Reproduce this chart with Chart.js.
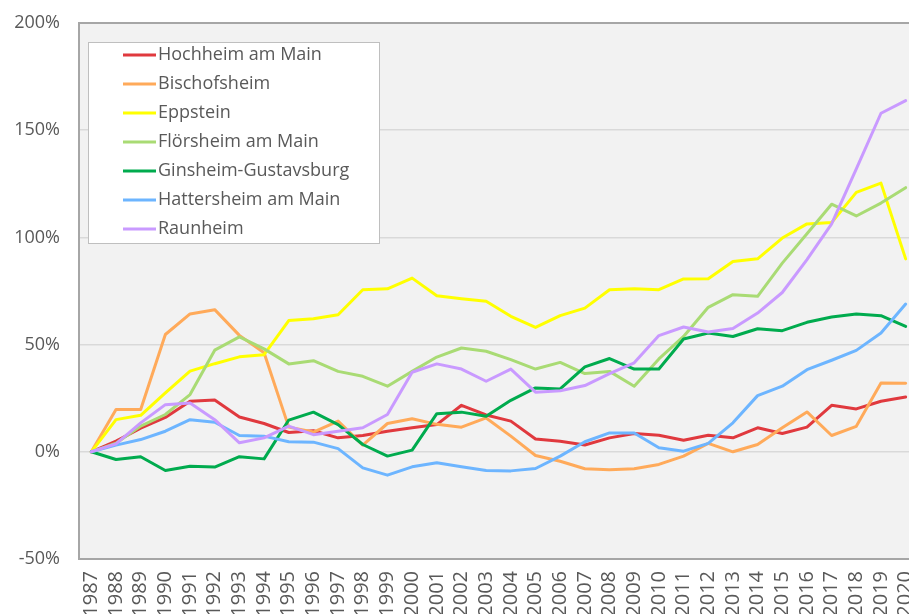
<!DOCTYPE html>
<html>
<head>
<meta charset="utf-8">
<script src="https://cdn.jsdelivr.net/npm/chart.js@4.4.1/dist/chart.umd.min.js"></script>
<style>
  html, body { margin: 0; padding: 0; background: #ffffff; overflow: hidden; width: 909px; height: 614px; }
  #wrap { position: absolute; left: 0; top: 0; width: 918px; height: 614px; }
</style>
</head>
<body>
<div id="wrap"><canvas id="c" width="918" height="614"></canvas></div>
<script>
const years = ["1987","1988","1989","1990","1991","1992","1993","1994","1995","1996","1997","1998","1999","2000","2001","2002","2003","2004","2005","2006","2007","2008","2009","2010","2011","2012","2013","2014","2015","2016","2017","2018","2019","2020"];

const seriesNames = ["Hochheim am Main","Bischofsheim","Eppstein","Flörsheim am Main","Ginsheim-Gustavsburg","Hattersheim am Main","Raunheim"];

const hochheim = [0,5,11,16,23.6,24.2,16.2,13.2,9,9.8,6.5,7.6,9.6,11.2,12.7,21.7,17.2,14.3,6,4.9,3.2,6.5,8.5,7.7,5.4,7.7,6.5,11.2,8.5,11.5,21.7,20,23.6,25.6];
const bischofsheim = [0,19.7,19.7,54.7,64.3,66.3,54.3,46.2,11.5,9.2,14.3,3.1,13.2,15.4,12.8,11.5,15.8,7.3,-1.7,-4.4,-7.9,-8.4,-7.9,-5.9,-2,3.9,0,3.4,11.2,18.6,7.6,11.9,32.1,32];
const eppstein = [0,15,17,27.5,37.6,41.1,44.3,45.3,61.2,62.1,63.9,75.6,76,81,72.8,71.4,70.2,63.2,58,63.5,67,75.6,76,75.6,80.6,80.7,88.8,90,99.7,106.3,106.9,121,125.3,90];
const floersheim = [0,4,12,17.4,26.7,47.4,53.6,48,41,42.5,37.5,35.2,30.6,37.5,44.2,48.4,46.9,43,38.6,41.7,36.5,37.5,30.6,43.3,53.8,67.4,73.3,72.5,88,101.7,115.5,110,116,123.2];
const ginsheim = [0,-3.6,-2.3,-8.7,-6.7,-7.1,-2.3,-3.3,14.8,18.5,12.7,3.4,-2,0.8,17.8,18.5,16.6,24,29.8,29.3,39.6,43.5,38.6,38.6,52.6,55.4,53.8,57.4,56.5,60.4,62.9,64.3,63.5,58.5];
const hattersheim = [0,3.1,5.7,9.6,15,13.8,7.6,7.3,4.7,4.5,1.5,-7.5,-10.9,-7,-5.1,-7,-8.7,-8.9,-7.8,-2,4.7,8.8,8.8,1.9,0.3,3.9,13.5,26.2,30.6,38.3,42.7,47.3,55.4,68.9];
const raunheim = [0,3.7,13.5,22,22.8,15,4.2,6.5,12,8,9.6,11.2,17.4,37.1,41,38.6,32.9,38.6,27.8,28.5,30.9,36.5,41.5,54.2,58.2,55.9,57.5,64.7,74.3,89.6,106.3,132,157.9,163.8];

const yTicks = [-50, 0, 50, 100, 150, 200];

const colors = ["#E0393E","#FFAA5A","#FFFF00","#A9DB74","#00AB4E","#6DB5FF","#C99AFF"];
const values = [hochheim, bischofsheim, eppstein, floersheim, ginsheim, hattersheim, raunheim];

const FONT = "'Open Sans', 'Noto Sans', sans-serif";
const TEXT = "#595959";

const bgPlugin = {
  id: 'bg',
  beforeDraw(chart) {
    const {ctx, chartArea: a} = chart;
    ctx.save();
    ctx.fillStyle = '#F2F2F2';
    ctx.fillRect(a.left, a.top, a.right - a.left, a.bottom - a.top);
    ctx.restore();
  },
  afterDraw(chart) {
    const {ctx, chartArea: a} = chart;
    ctx.save();
    ctx.strokeStyle = '#A6A6A6';
    ctx.lineWidth = 2;
    ctx.beginPath();
    ctx.moveTo(a.left - 1, a.top);
    ctx.lineTo(a.right, a.top);
    ctx.stroke();
    ctx.restore();
  }
};

const legendPlugin = {
  id: 'boxLegend',
  afterDatasetsDraw(chart) {
    const ctx = chart.ctx;
    const bx = 88, by = 42, bw = 291, bh = 201;
    ctx.save();
    ctx.fillStyle = '#FFFFFF';
    ctx.fillRect(bx, by, bw, bh);
    ctx.strokeStyle = '#BFBFBF';
    ctx.lineWidth = 1;
    ctx.strokeRect(bx + 0.5, by + 0.5, bw, bh);
    ctx.font = "18px " + FONT;
    ctx.textBaseline = 'middle';
    ctx.textAlign = 'left';
    chart.data.datasets.forEach((ds, i) => {
      const y = 55 + i * 29;
      ctx.strokeStyle = ds.borderColor;
      ctx.lineWidth = 3;
      ctx.beginPath();
      ctx.moveTo(123, y);
      ctx.lineTo(156, y);
      ctx.stroke();
      ctx.fillStyle = TEXT;
      ctx.fillText(ds.label, 158, y);
    });
    ctx.restore();
  }
};

new Chart(document.getElementById('c'), {
  type: 'line',
  data: {
    labels: years,
    datasets: seriesNames.map((name, i) => ({
      label: name,
      data: values[i],
      borderColor: colors[i],
      backgroundColor: colors[i],
      borderWidth: 3,
      pointRadius: 0,
      tension: 0,
      fill: false,
      borderJoinStyle: 'round',
      borderCapStyle: 'round',
      order: -i
    }))
  },
  options: {
    responsive: false,
    animation: false,
    devicePixelRatio: 1,
    layout: { padding: { top: 23, left: 0, right: 0, bottom: 0 } },
    plugins: {
      legend: { display: false },
      tooltip: { enabled: false }
    },
    scales: {
      x: {
        offset: true,
        grid: { display: false, drawTicks: false },
        border: { display: true, color: '#A6A6A6', width: 2 },
        ticks: {
          color: TEXT,
          font: { family: FONT, size: 20 },
          minRotation: 90,
          maxRotation: 90,
          autoSkip: false,
          padding: 12
        },
        afterFit(scale) {
          scale.height = 55;
          scale.paddingLeft = 0; scale.paddingRight = 0;
          scale.paddingTop = 0; scale.paddingBottom = 0;
        }
      },
      y: {
        min: -50,
        max: 200,
        afterBuildTicks(scale) { scale.ticks = yTicks.map(v => ({ value: v })); },
        grid: { color: '#D9D9D9', lineWidth: 1.5, drawTicks: false },
        border: { display: true, color: '#A6A6A6', width: 2 },
        ticks: {
          color: TEXT,
          font: { family: FONT, size: 18 },
          padding: 19,
          callback: v => v + '%'
        },
        afterFit(scale) {
          scale.width = 79;
          scale.paddingLeft = 0; scale.paddingRight = 0;
          scale.paddingTop = 0; scale.paddingBottom = 0;
        }
      }
    }
  },
  plugins: [bgPlugin, legendPlugin]
});
</script>
</body>
</html>
